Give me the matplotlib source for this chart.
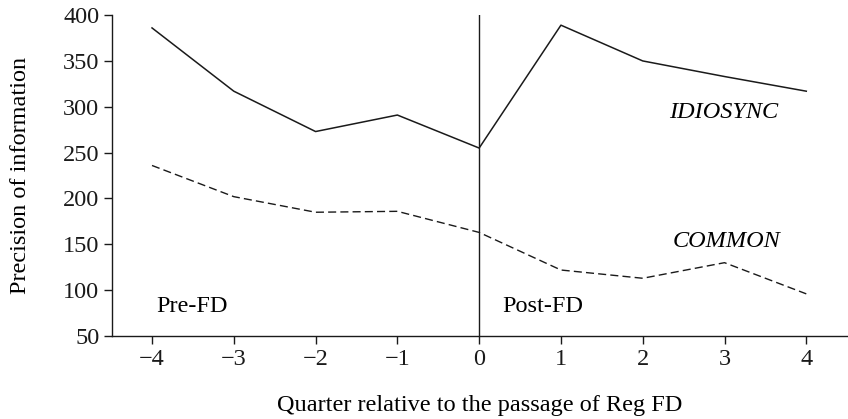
import matplotlib
matplotlib.use("Agg")
import matplotlib.pyplot as plt

quarters = [-4, -3, -2, -1, 0, 1, 2, 3, 4]
idiosync = [386, 317, 273, 291, 255, 389, 350, 333, 317]
common = [236, 202, 185, 186, 163, 122, 113, 130, 96]
yticks = [50, 100, 150, 200, 250, 300, 350, 400]

plt.rcParams['font.family'] = ['Liberation Serif']
plt.rcParams['lines.scale_dashes'] = False

FS = 17.5
fig = plt.figure(figsize=(8.48, 4.19), dpi=100)
ax = fig.add_axes([0.132, 0.198, 0.868, 0.766])

ax.plot(quarters, idiosync, color='#1a1a1a', lw=1.1)
ax.plot(quarters, common, color='#1a1a1a', lw=1.0, dashes=(5.8, 3.0))
ax.axvline(0, color='#1a1a1a', lw=1.0)

ax.set_xlim(-4.49, 4.51)
ax.set_ylim(50, 400)
ax.set_xticks(quarters)
ax.set_xticklabels(['\u2212' + str(-q) if q < 0 else str(q) for q in quarters])
ax.set_yticks(yticks)

for s in ['top', 'right']:
    ax.spines[s].set_visible(False)
for s in ['left', 'bottom']:
    ax.spines[s].set_linewidth(1.0)
    ax.spines[s].set_color('#1a1a1a')
ax.tick_params(direction='out', length=6, width=1.0, labelsize=FS, colors='#1a1a1a', pad=3)

ax.set_ylabel('Precision of information', fontsize=FS, labelpad=23)
ax.set_xlabel('Quarter relative to the passage of Reg FD', fontsize=FS, labelpad=18)

ax.text(-3.95, 82, 'Pre-FD', fontsize=FS, va='center', ha='left')
ax.text(0.28, 82, 'Post-FD', fontsize=FS, va='center', ha='left')
ax.text(2.32, 294, 'IDIOSYNC', fontsize=FS, va='center', ha='left', style='italic')
ax.text(2.36, 153, 'COMMON', fontsize=FS, va='center', ha='left', style='italic')

fig.savefig('out.png', dpi=100)
